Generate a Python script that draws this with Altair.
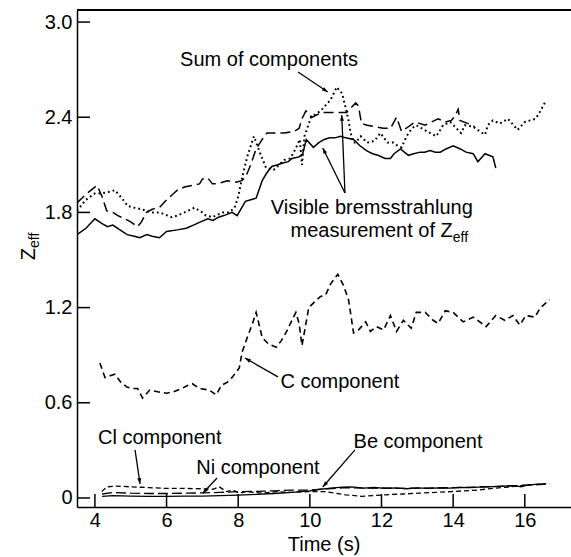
import math
import altair as alt
import pandas as pd

# ---------------- data ----------------
brem_solid_t = [3.5, 3.75, 4.0, 4.2, 4.35, 4.5, 4.7, 4.9, 5.1, 5.25, 5.45, 5.6, 5.8, 6.0, 6.3, 6.55, 6.75, 6.95,
                7.15, 7.3, 7.45, 7.6, 7.83, 7.97, 8.1, 8.2, 8.35, 8.5, 8.67, 8.8, 8.94, 9.1, 9.22, 9.4, 9.5, 9.7,
                9.8, 9.9, 10.1, 10.25, 10.4, 10.55, 10.7, 10.86, 11.0, 11.22, 11.4, 11.58, 11.75, 11.9, 12.1,
                12.25, 12.35, 12.53, 12.75, 12.9, 13.08, 13.2, 13.36, 13.5, 13.64, 13.8, 14.0, 14.2, 14.36,
                14.56, 14.69, 14.89, 15.11, 15.19]
brem_solid_v = [1.66, 1.70, 1.76, 1.73, 1.71, 1.72, 1.69, 1.66, 1.65, 1.64, 1.66, 1.65, 1.64, 1.68, 1.69, 1.70,
                1.72, 1.74, 1.76, 1.75, 1.77, 1.78, 1.80, 1.78, 1.83, 1.87, 1.88, 1.89, 2.00, 2.05, 2.09, 2.10,
                2.11, 2.12, 2.14, 2.15, 2.17, 2.26, 2.21, 2.24, 2.26, 2.27, 2.27, 2.28, 2.27, 2.26, 2.22, 2.19,
                2.17, 2.16, 2.14, 2.14, 2.17, 2.20, 2.16, 2.17, 2.18, 2.18, 2.19, 2.18, 2.18, 2.20, 2.22, 2.20,
                2.18, 2.17, 2.12, 2.17, 2.15, 2.08]

brem_dash_t = [3.5, 3.78, 4.06, 4.2, 4.33, 4.5, 4.64, 4.83, 5.0, 5.19, 5.3, 5.44, 5.6, 5.8, 6.0, 6.15, 6.3, 6.5,
               6.72, 6.92, 7.0, 7.14, 7.28, 7.42, 7.56, 7.69, 7.94, 8.1, 8.2, 8.35, 8.5, 8.67, 8.8, 9.08, 9.28,
               9.56, 9.7, 9.78, 9.89, 10.06, 10.33, 10.67, 11.03, 11.15, 11.28, 11.36, 11.44, 11.6, 11.83,
               12.05, 12.25, 12.42, 12.56, 12.75, 12.94, 13.22, 13.4, 13.58, 13.78, 13.95, 14.06, 14.14, 14.19,
               14.42, 14.6]
brem_dash_v = [1.86, 1.92, 1.97, 1.90, 1.81, 1.80, 1.78, 1.76, 1.74, 1.71, 1.74, 1.80, 1.82, 1.83, 1.88, 1.91,
               1.94, 1.96, 1.97, 1.98, 2.01, 2.02, 1.98, 1.98, 1.99, 2.00, 1.99, 2.00, 2.02, 2.10, 2.20, 2.26,
               2.30, 2.30, 2.30, 2.31, 2.33, 2.39, 2.44, 2.40, 2.43, 2.43, 2.43, 2.46, 2.49, 2.47, 2.36, 2.35,
               2.34, 2.33, 2.33, 2.40, 2.31, 2.34, 2.37, 2.35, 2.37, 2.39, 2.37, 2.38, 2.41, 2.45, 2.38, 2.36,
               2.34]

sum_t = [3.5, 3.75, 4.0, 4.19, 4.4, 4.56, 4.75, 4.92, 5.1, 5.3, 5.58, 5.8, 6.14, 6.3, 6.5, 6.78, 7.0, 7.1,
         7.28, 7.56, 7.75, 7.9, 8.0, 8.11, 8.25, 8.44, 8.6, 8.78, 9.0, 9.1, 9.28, 9.45, 9.6, 9.72, 9.78, 9.85,
         10.03, 10.3, 10.58, 10.75, 10.9, 11.0, 11.08, 11.14, 11.22, 11.28, 11.42, 11.6, 11.8, 11.97, 12.17,
         12.33, 12.45, 12.56, 12.7, 12.85, 12.97, 13.2, 13.36, 13.53, 13.72, 13.92, 14.05, 14.22, 14.33,
         14.56, 14.75, 14.89, 14.97, 15.11, 15.3, 15.53, 15.8, 16.0, 16.15, 16.3, 16.44, 16.58]
sum_v = [1.81, 1.88, 1.92, 1.92, 1.93, 1.94, 1.89, 1.84, 1.83, 1.82, 1.80, 1.80, 1.77, 1.78, 1.80, 1.83, 1.80,
         1.78, 1.77, 1.80, 1.80, 1.83, 1.90, 2.02, 2.15, 2.28, 2.18, 2.08, 2.07, 2.09, 2.13, 2.14, 2.20, 2.26,
         2.10, 2.28, 2.40, 2.44, 2.51, 2.59, 2.55, 2.46, 2.38, 2.30, 2.24, 2.24, 2.28, 2.24, 2.25, 2.30, 2.24,
         2.24, 2.22, 2.21, 2.28, 2.33, 2.35, 2.32, 2.30, 2.28, 2.35, 2.37, 2.34, 2.30, 2.35, 2.34, 2.31, 2.29,
         2.35, 2.38, 2.36, 2.39, 2.32, 2.37, 2.38, 2.39, 2.44, 2.50]

c_t = [4.14, 4.28, 4.42, 4.56, 4.72, 4.89, 5.05, 5.19, 5.33, 5.53, 5.75, 6.0, 6.2, 6.42, 6.6, 6.72, 6.92, 7.19,
       7.39, 7.53, 7.7, 7.83, 8.03, 8.11, 8.25, 8.4, 8.5, 8.67, 8.85, 9.06, 9.2, 9.33, 9.5, 9.61, 9.7, 9.78,
       9.97, 10.15, 10.3, 10.44, 10.58, 10.78, 10.94, 11.08, 11.22, 11.36, 11.56, 11.69, 11.86, 12.06, 12.25,
       12.42, 12.61, 12.83, 12.97, 13.22, 13.44, 13.58, 13.78, 14.0, 14.28, 14.56, 14.92, 15.19, 15.44, 15.67,
       15.86, 16.03, 16.28, 16.44, 16.69]
c_v = [0.85, 0.76, 0.77, 0.78, 0.73, 0.70, 0.69, 0.69, 0.63, 0.68, 0.67, 0.66, 0.67, 0.69, 0.71, 0.72, 0.69,
       0.68, 0.65, 0.71, 0.73, 0.76, 0.82, 0.92, 1.01, 1.10, 1.17, 1.01, 0.97, 0.95, 0.99, 1.04, 1.12, 1.17,
       1.10, 0.96, 1.20, 1.24, 1.27, 1.28, 1.35, 1.41, 1.34, 1.25, 1.04, 1.06, 1.11, 1.05, 1.08, 1.06, 1.15,
       1.05, 1.12, 1.07, 1.17, 1.17, 1.12, 1.10, 1.18, 1.17, 1.11, 1.14, 1.08, 1.15, 1.12, 1.15, 1.09, 1.15,
       1.14, 1.20, 1.25]

cl_t = [4.19, 4.33, 4.6, 5.0, 5.5, 6.0, 6.5, 7.0, 7.3, 7.47, 7.67, 7.85, 8.03, 8.22, 8.45, 8.69, 9.06, 9.5,
        9.97, 10.44, 11.0, 11.44, 12.1, 12.6, 13.03, 13.5, 13.94, 14.3, 14.69, 15.1, 15.6, 16.0, 16.3, 16.56]
cl_v = [0.04, 0.07, 0.075, 0.07, 0.065, 0.06, 0.06, 0.058, 0.055, 0.07, 0.04, 0.05, 0.03, 0.04, 0.035, 0.03,
        0.04, 0.035, 0.04, 0.04, 0.02, 0.01, 0.02, 0.025, 0.03, 0.035, 0.04, 0.045, 0.05, 0.06, 0.07, 0.08,
        0.085, 0.09]

ni_t = [4.2, 4.5, 5.0, 5.5, 6.0, 6.5, 7.0, 7.5, 8.0, 8.5, 9.0, 9.5, 10.0, 10.5, 11.0, 11.5, 12.0, 12.5, 13.0,
        13.5, 14.0, 14.5, 15.0, 15.5, 16.0, 16.5, 16.7]
ni_v = [0.025, 0.035, 0.03, 0.028, 0.028, 0.03, 0.032, 0.035, 0.04, 0.042, 0.045, 0.05, 0.05, 0.058, 0.065,
        0.062, 0.063, 0.06, 0.062, 0.063, 0.065, 0.068, 0.07, 0.075, 0.08, 0.085, 0.09]

be_t = [4.2, 4.5, 5.0, 5.5, 6.0, 6.5, 7.0, 7.5, 8.0, 8.5, 9.0, 9.5, 10.0, 10.3, 10.6, 10.9, 11.17, 11.5, 11.8,
        12.1, 12.4, 12.7, 13.0, 13.3, 13.6, 13.9, 14.2, 14.5, 14.8, 15.1, 15.4, 15.7, 15.9, 16.1, 16.3, 16.6]
be_v = [0.01, 0.015, 0.012, 0.01, 0.01, 0.012, 0.012, 0.015, 0.018, 0.022, 0.028, 0.035, 0.045, 0.055, 0.062,
        0.068, 0.07, 0.062, 0.066, 0.06, 0.064, 0.058, 0.063, 0.06, 0.064, 0.062, 0.066, 0.065, 0.07, 0.072,
        0.075, 0.078, 0.07, 0.082, 0.085, 0.09]

x_ticks = [4, 6, 8, 10, 12, 14, 16]
y_ticks = [0, 0.6, 1.2, 1.8, 2.4, 3.0]

ann_text = ["Sum of components", "Visible bremsstrahlung", "C component", "Cl component",
            "Ni component", "Be component"]
ann_t = [8.86, 11.73, 10.84, 5.81, 8.55, 13.02]
ann_v = [2.76, 1.83, 0.731, 0.378, 0.189, 0.353]

meas_text = ["measurement of Z"]
meas_t = [13.99]
meas_v = [1.683]
sub_text = ["eff"]
sub_v = [1.64]

arr_t1 = [9.67, 10.98, 10.98, 9.11, 5.12, 7.41, 11.26]
arr_v1 = [2.685, 1.922, 1.922, 0.763, 0.303, 0.126, 0.303]
arr_t2 = [10.50, 10.36, 10.89, 8.19, 5.26, 7.01, 10.36]
arr_v2 = [2.559, 2.206, 2.414, 0.882, 0.088, 0.030, 0.069]

# ---------------- layout ----------------
X_MIN, X_MAX = 3.5, 17.29
Y_MIN, Y_MAX = -0.057, 3.076
W, H = 494, 497
FONT = "Liberation Sans"
FS = 20

xs = alt.Scale(domain=[X_MIN, X_MAX], nice=False, zero=False)
ys = alt.Scale(domain=[Y_MIN, Y_MAX], nice=False, zero=False)

xaxis = alt.Axis(values=x_ticks, title=None, ticks=False, tickSize=0, labelPadding=3, labelFontSize=FS,
                 labelFont=FONT, labelColor="black", domainColor="black", domainWidth=1.5, grid=False,
                 labelFlush=False)
yaxis = alt.Axis(values=y_ticks, title=None, ticks=False, tickSize=0, labelPadding=5, labelFontSize=FS,
                 labelFont=FONT, labelColor="black", domainColor="black", domainWidth=1.5, grid=False,
                 labelFlush=False,
                 labelExpr="datum.value == 0 ? '0' : format(datum.value, '.1f')")

X = lambda f: alt.X(f, type="quantitative", scale=xs, axis=xaxis)
Y = lambda f: alt.Y(f, type="quantitative", scale=ys, axis=yaxis)


def line(t, v, width=1.4, dash=None):
    kw = dict(color="black", strokeWidth=width, clip=True)
    if dash:
        kw["strokeDash"] = dash
    return alt.Chart(pd.DataFrame({"t": t, "v": v})).mark_line(**kw).encode(x=X("t"), y=Y("v"))


layers = [
    line(brem_solid_t, brem_solid_v, 1.5),
    line(brem_dash_t, brem_dash_v, 1.5, [10, 5]),
    line(sum_t, sum_v, 2.0, [1.8, 3]),
    line(c_t, c_v, 1.6, [6, 4]),
    line(cl_t, cl_v, 1.3, [5, 3]),
    line(ni_t, ni_v, 1.3, [10, 4]),
    line(be_t, be_v, 1.3),
]

# inward ticks
layers.append(alt.Chart(pd.DataFrame({"v": y_ticks})).mark_rule(color="black", strokeWidth=1.5)
              .encode(y=Y("v"), x=alt.value(0), x2=alt.value(13)))
layers.append(alt.Chart(pd.DataFrame({"t": x_ticks})).mark_rule(color="black", strokeWidth=1.5)
              .encode(x=X("t"), y=alt.value(H), y2=alt.value(H - 13)))
# top frame line
layers.append(alt.Chart(pd.DataFrame({"a": [0]})).mark_rule(color="black", strokeWidth=2)
              .encode(x=alt.value(0), x2=alt.value(W), y=alt.value(0)))

# annotations
layers.append(alt.Chart(pd.DataFrame({"s": ann_text, "t": ann_t, "v": ann_v}))
              .mark_text(font=FONT, fontSize=FS, color="black", align="center", baseline="middle")
              .encode(x=X("t"), y=Y("v"), text="s:N"))
layers.append(alt.Chart(pd.DataFrame({"s": meas_text, "t": meas_t, "v": meas_v}))
              .mark_text(font=FONT, fontSize=FS, color="black", align="right", baseline="middle")
              .encode(x=X("t"), y=Y("v"), text="s:N"))
layers.append(alt.Chart(pd.DataFrame({"s": sub_text, "t": meas_t, "v": sub_v}))
              .mark_text(font=FONT, fontSize=14, color="black", align="left", baseline="middle")
              .encode(x=X("t"), y=Y("v"), text="s:N"))

# arrows
px_x = W / (X_MAX - X_MIN)
px_y = H / (Y_MAX - Y_MIN)
angles = []
for a, b, c, d in zip(arr_t1, arr_v1, arr_t2, arr_v2):
    dx = (c - a) * px_x
    dy = -(d - b) * px_y
    angles.append(math.degrees(math.atan2(dx, -dy)) % 360)
arr_df = pd.DataFrame({"t1": arr_t1, "v1": arr_v1, "t2": arr_t2, "v2": arr_v2, "ang": angles})
layers.append(alt.Chart(arr_df).mark_rule(color="black", strokeWidth=1.3)
              .encode(x=X("t1"), y=Y("v1"), x2="t2", y2="v2"))
layers.append(alt.Chart(arr_df).mark_point(shape="M0,0L0.38,1.1L-0.38,1.1Z", filled=True, color="black",
                                           opacity=1, size=110, strokeWidth=0)
              .encode(x=X("t2"), y=Y("v2"), angle=alt.Angle("ang:Q", scale=None)))

# y-axis title Z_eff (rotated)
layers.append(alt.Chart(pd.DataFrame({"s": ["Z"]})).mark_text(
    font=FONT, fontSize=FS, color="black", angle=270, align="right", baseline="alphabetic")
    .encode(x=alt.value(-42), y=alt.value(238), text="s:N"))
layers.append(alt.Chart(pd.DataFrame({"s": ["eff"]})).mark_text(
    font=FONT, fontSize=14, color="black", angle=270, align="left", baseline="alphabetic")
    .encode(x=alt.value(-38), y=alt.value(238), text="s:N"))
# x-axis title
layers.append(alt.Chart(pd.DataFrame({"s": ["Time (s)"]})).mark_text(
    font=FONT, fontSize=FS, color="black", align="center", baseline="middle")
    .encode(x=alt.value(W / 2), y=alt.value(H + 38), text="s:N"))

chart = alt.layer(*layers).properties(
    width=W, height=H,
    autosize=alt.AutoSizeParams(type="none"),
    padding={"left": 77, "top": 10, "right": 0, "bottom": 50},
    background="white",
).configure_view(stroke=None)

chart.save("out.html", embed_options={"renderer": "svg", "actions": False})
